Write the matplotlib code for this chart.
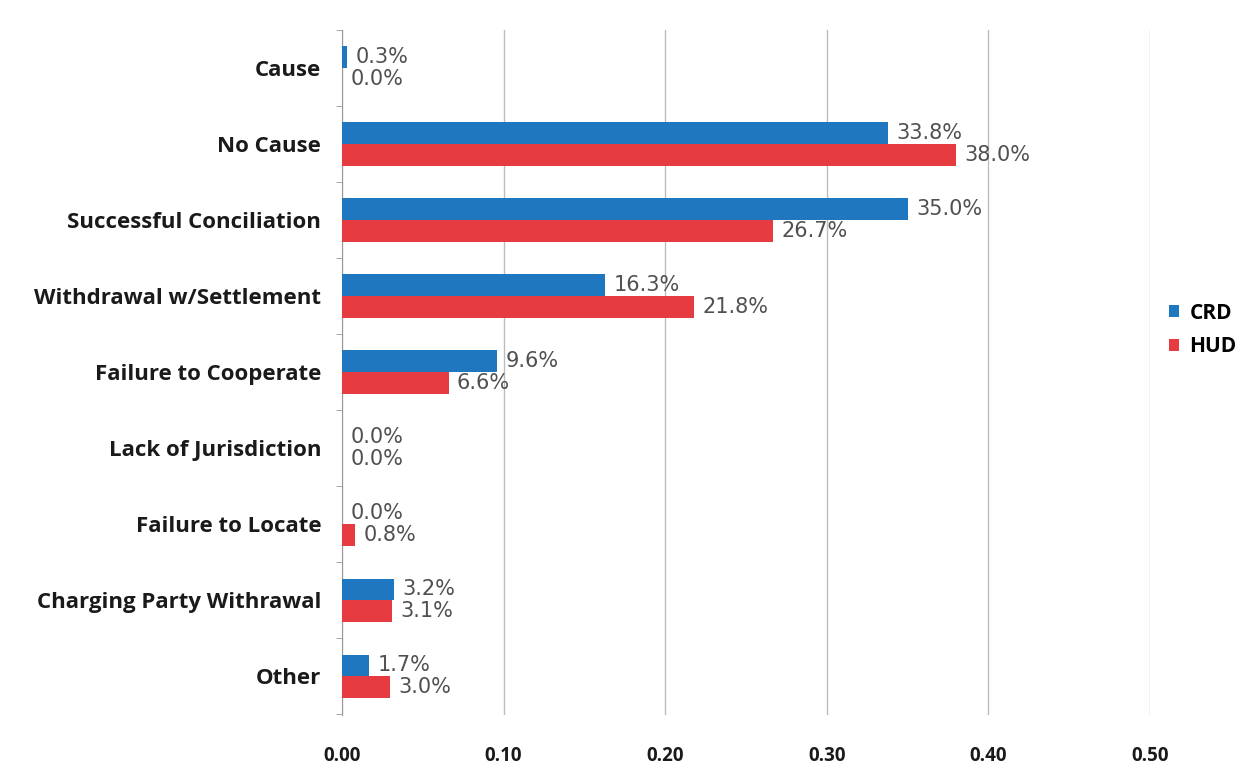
import matplotlib.pyplot as plt
import numpy as np

categories = ['Cause', 'No Cause', 'Successful Conciliation', 'Withdrawal w/Settlement',
              'Failure to Cooperate', 'Lack of Jurisdiction', 'Failure to Locate',
              'Charging Party Withrawal', 'Other']
crd = [0.003, 0.338, 0.350, 0.163, 0.096, 0.000, 0.000, 0.032, 0.017]
hud = [0.000, 0.380, 0.267, 0.218, 0.066, 0.000, 0.008, 0.031, 0.030]
xticks = [0.0, 0.1, 0.2, 0.3, 0.4, 0.5]

blue = '#1f78bf'
red = '#e63b40'

fig = plt.figure(figsize=(12.49, 7.64), dpi=100)
ax = fig.add_axes([0.2738, 0.064, 0.9207 - 0.2738, 0.897])

y = np.arange(len(categories))
h = 0.285
ax.barh(y - h / 2, crd, height=h, color=blue, label='CRD', zorder=3)
ax.barh(y + h / 2, hud, height=h, color=red, label='HUD', zorder=3)

# value labels next to each bar
for yi, c, r in zip(y, crd, hud):
    ax.annotate(f'{c*100:.1f}%', (c, yi - h / 2), xytext=(6, 0), textcoords='offset points',
                va='center', ha='left', fontsize=15, color='#505050', family='DejaVu Sans')
    ax.annotate(f'{r*100:.1f}%', (r, yi + h / 2), xytext=(6, 0), textcoords='offset points',
                va='center', ha='left', fontsize=15, color='#505050', family='DejaVu Sans')

ax.set_xlim(0, 0.5)
ax.set_ylim(len(categories) - 0.49, -0.49)
ax.set_yticks(y)
ax.set_yticklabels(categories, fontsize=16, fontweight='bold', family='Open Sans', color='#1a1a1a')
ax.set_xticks(xticks)
ax.set_xticklabels([f'{t:.2f}' for t in xticks], fontsize=13.5, fontweight='bold',
                   family='Open Sans', color='#1a1a1a')
ax.tick_params(axis='y', length=0, pad=15)
ax.tick_params(axis='x', length=0, pad=22)
ax.set_yticks(np.arange(-0.5, len(categories), 1), minor=True)
ax.tick_params(axis='y', which='minor', length=4, color='#999999')

ax.grid(axis='x', color='#bdbdbd', linewidth=1, zorder=0)
for s in ['top', 'right', 'bottom']:
    ax.spines[s].set_visible(False)
ax.spines['left'].set_color('#999999')

leg = ax.legend(loc='center left', bbox_to_anchor=(1.0, 0.562), frameon=False,
                handlelength=0.5, handleheight=0.5, handletextpad=0.5, labelspacing=0.6,
                prop={'family': 'Open Sans', 'weight': 'bold', 'size': 15})

fig.savefig('out.png', dpi=100)
